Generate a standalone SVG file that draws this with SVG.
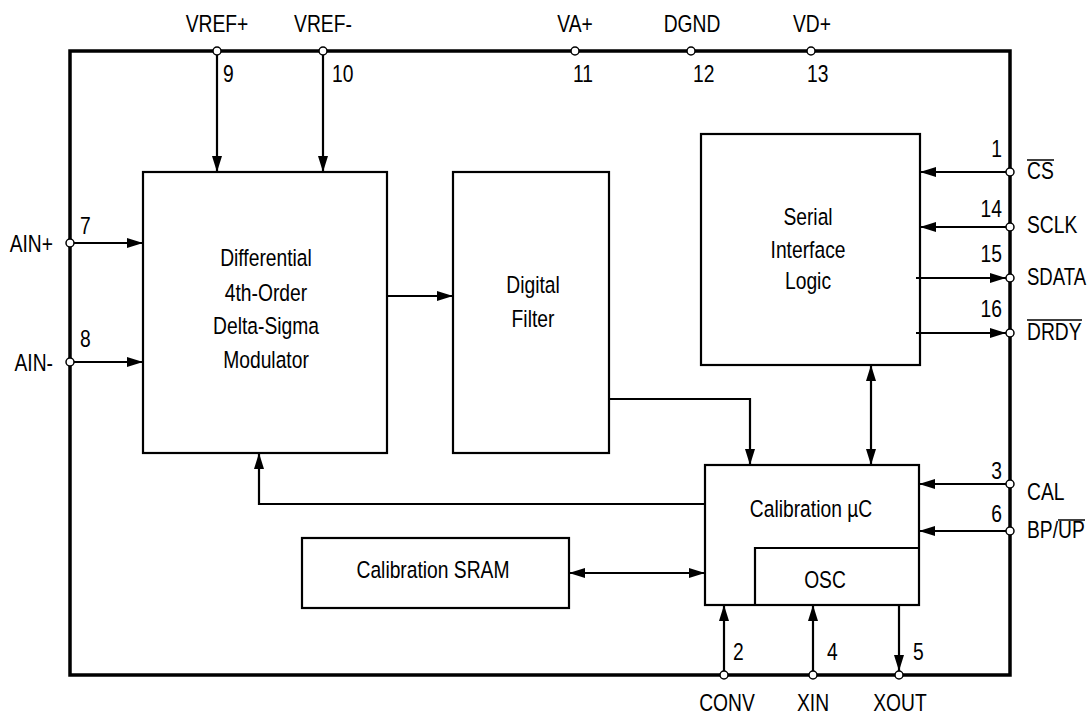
<svg xmlns="http://www.w3.org/2000/svg" width="1091" height="715" viewBox="0 0 1091 715">
<style>
text{font-family:"Liberation Sans",Arial,sans-serif;font-size:23.5px;fill:#000}
.m{text-anchor:middle}
.e{text-anchor:end}
.box{fill:none;stroke:#000;stroke-width:2.2}
.frame{fill:none;stroke:#000;stroke-width:3.5}
.c{fill:none;stroke:#000;stroke-width:2.2}
.a{marker-end:url(#ah)}
.b{marker-start:url(#ahs);marker-end:url(#ah)}
.pin{fill:#fff;stroke:#000;stroke-width:1.5}
.ov{stroke:#000;stroke-width:1.5}
</style>
<defs>
<marker id="ah" markerUnits="userSpaceOnUse" markerWidth="16" markerHeight="10" viewBox="0 0 16 10" refX="16" refY="5" orient="auto"><path d="M0,0 L16,5 L0,10 z" fill="#000"/></marker>
<marker id="ahs" markerUnits="userSpaceOnUse" markerWidth="16" markerHeight="10" viewBox="0 0 16 10" refX="16" refY="5" orient="auto-start-reverse"><path d="M0,0 L16,5 L0,10 z" fill="#000"/></marker>
</defs>
<rect id="frame" class="frame" x="70" y="51" width="940" height="624"/>
<g id="connectors">
<line class="c a" x1="217" y1="55" x2="217" y2="172"/>
<line class="c a" x1="323" y1="55" x2="323" y2="172"/>
<line class="c a" x1="74" y1="243" x2="143" y2="243"/>
<line class="c a" x1="74" y1="362" x2="143" y2="362"/>
<line class="c a" x1="387" y1="296" x2="453" y2="296"/>
<polyline class="c a" points="609,399 750,399 750,465"/>
<line class="c b" x1="871" y1="365" x2="871" y2="465"/>
<polyline class="c a" points="705,504 259,504 259,453"/>
<line class="c b" x1="569" y1="573" x2="705" y2="573"/>
<line class="c a" x1="1006" y1="172" x2="920" y2="172"/>
<line class="c a" x1="1006" y1="227" x2="920" y2="227"/>
<line class="c a" x1="916" y1="278" x2="1006" y2="278"/>
<line class="c a" x1="916" y1="333" x2="1006" y2="333"/>
<line class="c a" x1="1006" y1="484" x2="919" y2="484"/>
<line class="c a" x1="1006" y1="531" x2="919" y2="531"/>
<line class="c a" x1="724" y1="671" x2="724" y2="605"/>
<line class="c a" x1="813" y1="671" x2="813" y2="605"/>
<line class="c a" x1="899" y1="605" x2="899" y2="671"/>
</g>
<g id="pins">
<circle class="pin" cx="217" cy="51" r="4"/>
<circle class="pin" cx="323" cy="51" r="4"/>
<circle class="pin" cx="575" cy="51" r="4"/>
<circle class="pin" cx="691" cy="51" r="4"/>
<circle class="pin" cx="811" cy="51" r="4"/>
<circle class="pin" cx="70" cy="243" r="4"/>
<circle class="pin" cx="70" cy="362" r="4"/>
<circle class="pin" cx="1010" cy="172" r="4"/>
<circle class="pin" cx="1010" cy="227" r="4"/>
<circle class="pin" cx="1010" cy="278" r="4"/>
<circle class="pin" cx="1010" cy="333" r="4"/>
<circle class="pin" cx="1010" cy="484" r="4"/>
<circle class="pin" cx="1010" cy="531" r="4"/>
<circle class="pin" cx="724" cy="675" r="4"/>
<circle class="pin" cx="813" cy="675" r="4"/>
<circle class="pin" cx="899" cy="675" r="4"/>
</g>
<g id="pin-labels">
<text class="m" transform="translate(217,32) scale(.82,1)">VREF+</text>
<text class="m" transform="translate(323,32) scale(.82,1)">VREF-</text>
<text class="m" transform="translate(575,32) scale(.82,1)">VA+</text>
<text class="m" transform="translate(692,32) scale(.82,1)">DGND</text>
<text class="m" transform="translate(812,32) scale(.82,1)">VD+</text>
<text transform="translate(223,82) scale(.82,1)">9</text>
<text transform="translate(332,82) scale(.82,1)">10</text>
<text transform="translate(573,82) scale(.82,1)">11</text>
<text transform="translate(693,82) scale(.82,1)">12</text>
<text transform="translate(807,82) scale(.82,1)">13</text>
<text class="e" transform="translate(53,252) scale(.82,1)">AIN+</text>
<text class="e" transform="translate(53,371) scale(.82,1)">AIN-</text>
<text transform="translate(80,234) scale(.82,1)">7</text>
<text transform="translate(80,347) scale(.82,1)">8</text>
<text class="e" transform="translate(1002,157) scale(.82,1)">1</text>
<text class="e" transform="translate(1002,217) scale(.82,1)">14</text>
<text class="e" transform="translate(1002,262) scale(.82,1)">15</text>
<text class="e" transform="translate(1002,317) scale(.82,1)">16</text>
<text class="e" transform="translate(1002,479) scale(.82,1)">3</text>
<text class="e" transform="translate(1002,522) scale(.82,1)">6</text>
<text transform="translate(1027,179) scale(.82,1)">CS</text>
<line class="ov" x1="1027" y1="160" x2="1054" y2="160"/>
<text transform="translate(1027,233) scale(.82,1)">SCLK</text>
<text transform="translate(1027,285) scale(.79,1)">SDATA</text>
<text transform="translate(1027,340) scale(.82,1)">DRDY</text>
<line class="ov" x1="1027" y1="320" x2="1082" y2="320"/>
<text transform="translate(1027,500) scale(.82,1)">CAL</text>
<text transform="translate(1027,538) scale(.82,1)">BP/UP</text>
<line class="ov" x1="1058" y1="520" x2="1085" y2="520"/>
<text transform="translate(733,660) scale(.82,1)">2</text>
<text transform="translate(827,660) scale(.82,1)">4</text>
<text transform="translate(913,660) scale(.82,1)">5</text>
<text class="m" transform="translate(727,711) scale(.82,1)">CONV</text>
<text class="m" transform="translate(813,711) scale(.82,1)">XIN</text>
<text class="m" transform="translate(900,711) scale(.82,1)">XOUT</text>
</g>
<g id="modulator">
<rect class="box" x="143" y="172" width="244" height="281"/>
<text class="m" transform="translate(266,266) scale(.82,1)">Differential</text>
<text class="m" transform="translate(266,301) scale(.82,1)">4th-Order</text>
<text class="m" transform="translate(266,334) scale(.82,1)">Delta-Sigma</text>
<text class="m" transform="translate(266,368) scale(.82,1)">Modulator</text>
</g>
<g id="digital-filter">
<rect class="box" x="453" y="172" width="156" height="281"/>
<text class="m" transform="translate(533,293) scale(.82,1)">Digital</text>
<text class="m" transform="translate(533,327) scale(.82,1)">Filter</text>
</g>
<g id="serial-interface">
<rect class="box" x="701" y="134" width="219" height="231"/>
<text class="m" transform="translate(808,225) scale(.82,1)">Serial</text>
<text class="m" transform="translate(808,258) scale(.82,1)">Interface</text>
<text class="m" transform="translate(808,289) scale(.82,1)">Logic</text>
</g>
<g id="calibration-uc">
<rect class="box" x="705" y="465" width="214" height="140"/>
<text class="m" transform="translate(811,517) scale(.82,1)">Calibration µC</text>
</g>
<g id="osc">
<polyline class="box" points="755,605 755,548 919,548"/>
<text class="m" transform="translate(825,588) scale(.82,1)">OSC</text>
</g>
<g id="calibration-sram">
<rect class="box" x="302" y="538" width="267" height="70"/>
<text class="m" transform="translate(433,578) scale(.82,1)">Calibration SRAM</text>
</g>
</svg>
